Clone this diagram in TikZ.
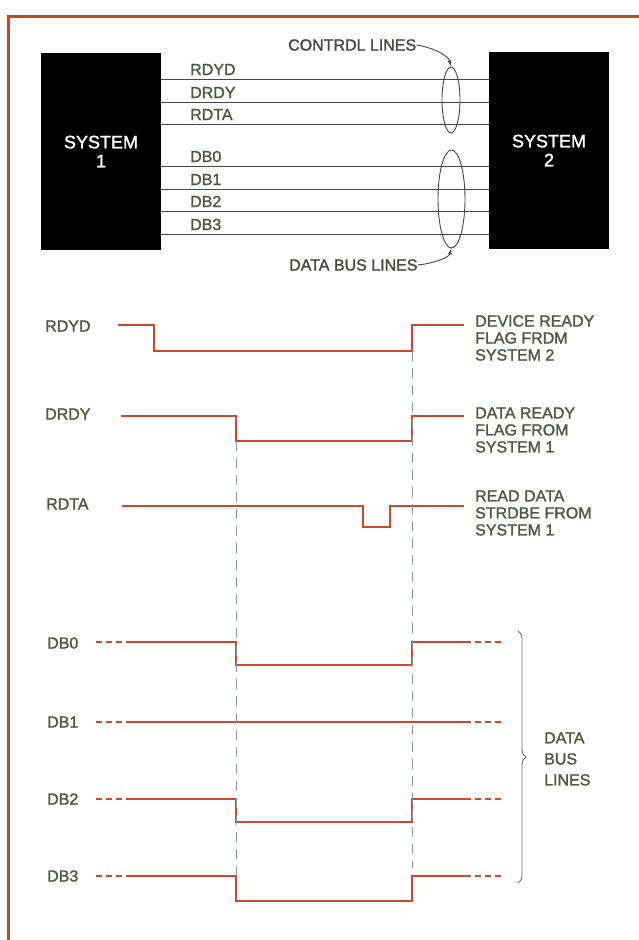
\documentclass[tikz,border=0pt]{standalone}
\usepackage{fontspec}
\setmainfont{Liberation Sans}[FakeBold=1.6]
\usepackage{xcolor}
\usepackage{tikz}
\usetikzlibrary{positioning,shapes.geometric,arrows.meta,decorations.pathreplacing}

\definecolor{wavered}{RGB}{204,74,44}
\definecolor{framered}{RGB}{196,72,36}
\definecolor{labelgray}{RGB}{82,88,70}
\definecolor{guidegray}{RGB}{140,150,160}
\definecolor{busgray}{RGB}{70,70,70}

\begin{document}
\begin{tikzpicture}[
    x=1pt, y=-1pt,
    >=Latex,
    font=\fontsize{16}{17}\selectfont,
    sysbox/.style={
        fill=black,
        text=white,
        minimum width=120pt,
        minimum height=197pt,
        inner sep=0pt,
        align=center,
        font=\fontsize{18}{19}\selectfont
    },
    lbl/.style={
        text=labelgray,
        inner sep=0pt,
        align=left
    },
    busline/.style={busgray, line width=0.9pt},
    loopline/.style={
        draw=busgray,
        ellipse,
        line width=0.9pt,
        inner sep=0pt
    },
    callout/.style={busgray, line width=0.9pt, -{Latex[length=6pt,width=4pt]}},
    wave/.style={wavered, line width=2.6pt, line join=miter},
    wavedash/.style={wavered, line width=2.6pt, dash pattern=on 6pt off 4pt},
    guide/.style={guidegray, line width=0.8pt, dash pattern=on 10pt off 7pt},
    border/.style={framered, line width=3pt}
]
\useasboundingbox (0,0) rectangle (639,940);

% frame
\draw[border] (8,940) -- (8,16) -- (639,16);

% the two systems
\node[sysbox] (sys1) at (101,151.5) {SYSTEM\\1};
\node[sysbox] (sys2) at (549,150.5) {SYSTEM\\2};

% bus lines between the systems
\foreach \name/\ly in {RDYD/79,DRDY/102,RDTA/124,DB0/166,DB1/189,DB2/211,DB3/234}{
    \draw[busline] (sys1.east |- 0,\ly) -- (sys2.west |- 0,\ly);
    \node[lbl, anchor=base west] (bus\name) at (190,\ly-4) {\name};
}

% loops round the line groups
\node[loopline, minimum width=18pt, minimum height=66pt] (ctlloop) at (451,100) {};
\node[loopline, minimum width=27pt, minimum height=98pt] (dataloop) at (451.5,199) {};

\node[lbl, text=busgray!80!labelgray, anchor=west] (ctltext) at (288,45) {CONTRDL LINES};
\node[lbl, text=busgray!80!labelgray, anchor=west] (datatext) at (289,265) {DATA BUS LINES};

\draw[callout] (ctltext.east) .. controls +(14,2) and +(-3,-12) .. (ctlloop.north);
\draw[callout] (datatext.east) .. controls +(12,-1) and +(-3,10) .. (dataloop.south);

% signal names
\node[lbl, anchor=west] (tRDYD) at (45,326) {RDYD};
\node[lbl, anchor=west] (tDRDY) at (45,414) {DRDY};
\node[lbl, anchor=west] (tRDTA) at (46,504) {RDTA};
\node[lbl, anchor=west] (tDB0) at (47,643) {DB0};
\node[lbl, anchor=west] (tDB1) at (47,722) {DB1};
\node[lbl, anchor=west] (tDB2) at (47,799) {DB2};
\node[lbl, anchor=west] (tDB3) at (47,876) {DB3};

% handshake waveforms
\draw[wave] (118,325) -- (154,325) -- (154,351) -- (412,351) -- (412,325) -- (464,325);
\draw[wave] (121,416) -- (236,416) -- (236,441) -- (412,441) -- (412,416) -- (464,416);
\draw[wave] (122,506) -- (363,506) -- (363,527) -- (390,527) -- (390,506) -- (464,506);

% data bus waveforms
\foreach \hy/\dy in {642/665,799/822,876/901}{
    \draw[wavedash] (96,\hy) -- (130,\hy);
    \draw[wave] (130,\hy) -- (236,\hy) -- (236,\dy) -- (412,\dy) -- (412,\hy) -- (465,\hy);
    \draw[wavedash] (465,\hy) -- (501,\hy);
}
\draw[wavedash] (96,722) -- (130,722);
\draw[wave] (130,722) -- (465,722);
\draw[wavedash] (465,722) -- (501,722);

% timing guides
\draw[guide] (236,441) -- (236,876);
\draw[guide] (412,351) -- (412,868);

% right hand notes
\node[lbl, anchor=west] (nRDYD) at (475,338) {DEVICE READY\\FLAG FRDM\\SYSTEM 2};
\node[lbl, anchor=west] (nDRDY) at (475,430) {DATA READY\\FLAG FROM\\SYSTEM 1};
\node[lbl, anchor=west] (nRDTA) at (475,513) {READ DATA\\STRDBE FROM\\SYSTEM 1};

% brace for the data bus
\draw[guidegray!70!black, line width=0.9pt, decorate, decoration={brace, amplitude=8pt}]
    (518,631) -- (518,883);
\node[lbl, anchor=west, font=\fontsize{16}{21}\selectfont] (ntext) at (544,759) {DATA\\BUS\\LINES};

\end{tikzpicture}
\end{document}
